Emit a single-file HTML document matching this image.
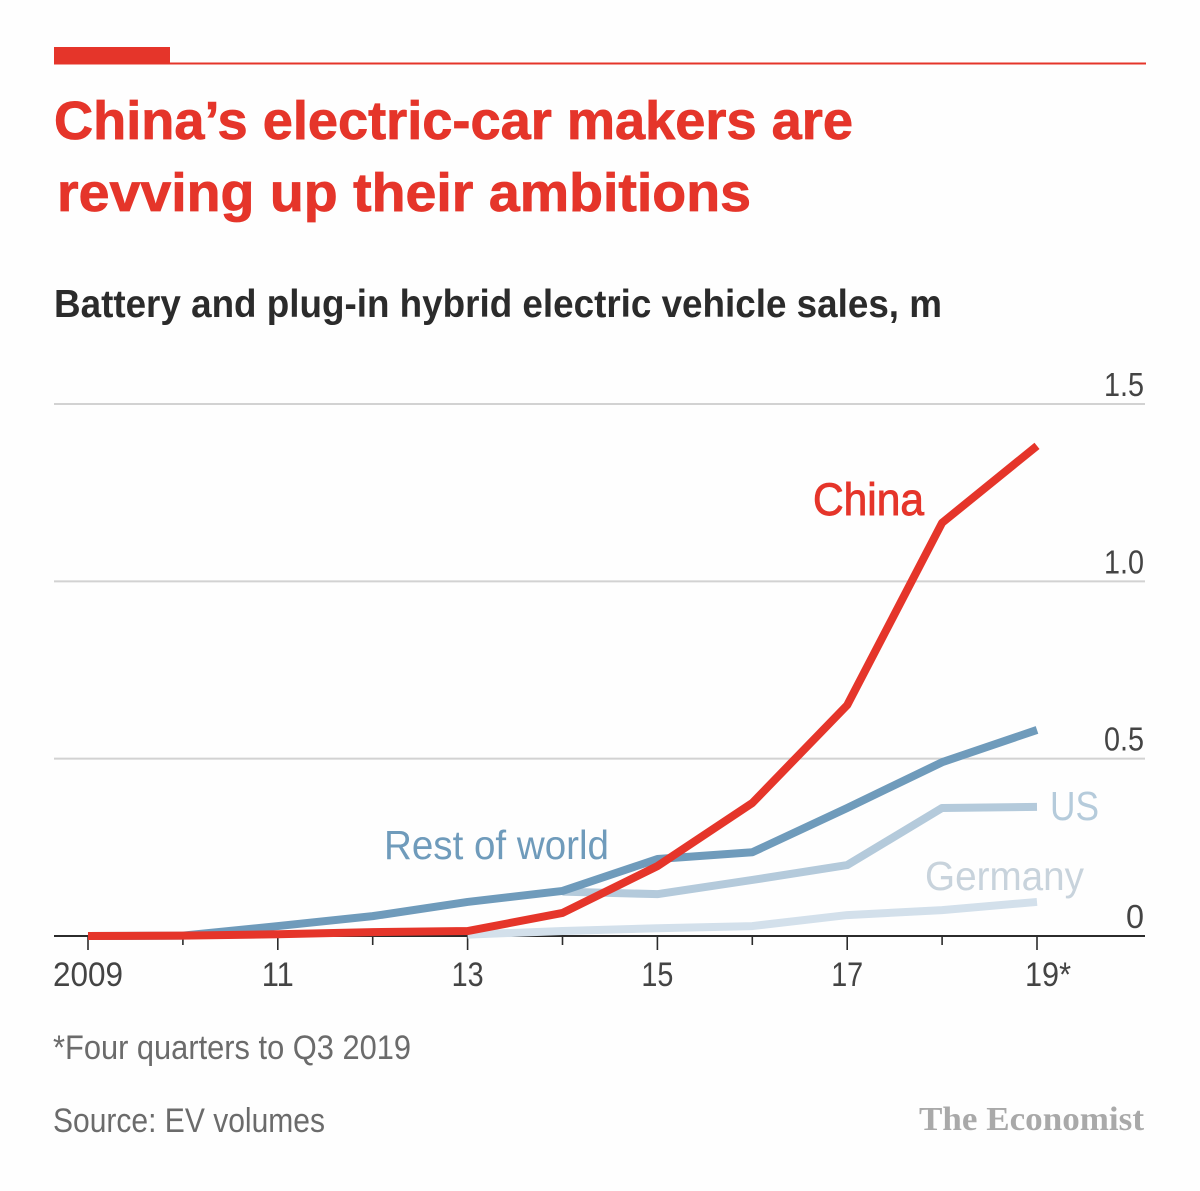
<!DOCTYPE html>
<html lang="en">
<head>
<meta charset="utf-8">
<title>China's electric-car makers are revving up their ambitions</title>
<style>
html,body{margin:0;padding:0;background:#fff;}
svg{display:block;}
text{font-family:"Liberation Sans",sans-serif;}
</style>
</head>
<body>
<svg id="chart" xmlns="http://www.w3.org/2000/svg" width="1200" height="1191" viewBox="0 0 1200 1191">
  <rect width="1200" height="1191" fill="#fefefe"/>
  <rect x="54" y="47" width="116" height="17" fill="#e5352a"/>
  <rect x="54" y="62.5" width="1092" height="2" fill="#e5352a"/>
  <text x="54" y="139" font-size="54" font-weight="700" fill="#e5352a" stroke="#e5352a" stroke-width="0.8" textLength="799" lengthAdjust="spacingAndGlyphs">China’s electric-car makers are</text>
  <text x="57" y="211" font-size="54" font-weight="700" fill="#e5352a" stroke="#e5352a" stroke-width="0.8" textLength="694" lengthAdjust="spacingAndGlyphs">revving up their ambitions</text>
  <text x="54" y="317" font-size="39" font-weight="700" fill="#2b2b2b" textLength="888" lengthAdjust="spacingAndGlyphs">Battery and plug-in hybrid electric vehicle sales, m</text>
  <g id="grid"></g>
  <g id="ticks"></g>
  <g id="series"></g>
  <text x="813" y="515" font-size="45" fill="#e5352a" stroke="#e5352a" stroke-width="0.9" textLength="111" lengthAdjust="spacingAndGlyphs">China</text>
  <text x="384" y="859" font-size="41" fill="#6f9bbb" textLength="225" lengthAdjust="spacingAndGlyphs">Rest of world</text>
  <text x="1050" y="820" font-size="41" fill="#b5cbdb" textLength="49" lengthAdjust="spacingAndGlyphs">US</text>
  <text x="925" y="890" font-size="41" fill="#c8d3dc" textLength="159" lengthAdjust="spacingAndGlyphs">Germany</text>
  <text x="53" y="1059" font-size="34" fill="#6b6b6b" textLength="358" lengthAdjust="spacingAndGlyphs">*Four quarters to Q3 2019</text>
  <text x="53" y="1132" font-size="34" fill="#6b6b6b" textLength="272" lengthAdjust="spacingAndGlyphs">Source: EV volumes</text>
  <text x="919" y="1130" font-size="34" font-weight="700" fill="#a9a9a9" style="font-family:'Liberation Serif',serif" textLength="225" lengthAdjust="spacingAndGlyphs">The Economist</text>
</svg>
<script>
const years = [2009, 2010, 2011, 2012, 2013, 2014, 2015, 2016, 2017, 2018, 2019];
const xTickLabels = ['2009', '', '11', '', '13', '', '15', '', '17', '', '19*'];
const yTicks = [0, 0.5, 1.0, 1.5];
const yTickLabels = ['0', '0.5', '1.0', '1.5'];
const germany = [null, null, null, null, 0.004, 0.014, 0.022, 0.028, 0.059, 0.073, 0.096];
const us = [null, null, null, null, null, 0.125, 0.118, 0.158, 0.2, 0.361, 0.364];
const restOfWorld = [0, 0.001, 0.028, 0.056, 0.096, 0.127, 0.217, 0.236, 0.361, 0.49, 0.581];
const china = [0, 0.001, 0.005, 0.011, 0.014, 0.065, 0.197, 0.375, 0.651, 1.165, 1.382];

const NS = 'http://www.w3.org/2000/svg';
const xScale = v => 88 + (v - 2009) * (1037 - 88) / 10;
const yScale = v => 936 - v * (936 - 404) / 1.5;

function make(tag, attrs, parent, txt) {
  const el = document.createElementNS(NS, tag);
  for (const k in attrs) el.setAttribute(k, attrs[k]);
  if (txt !== undefined) el.textContent = txt;
  parent.appendChild(el);
  return el;
}

const grid = document.getElementById('grid');
yTicks.forEach((t, i) => {
  const line = make('line', {x1: 54, x2: 1145, y1: yScale(t), y2: yScale(t),
    stroke: t === 0 ? '#2b2b2b' : '#d2d2d2', 'stroke-width': 2}, grid);
  
  
  const label = make('text', {x: 1144, y: yScale(t) - 8, 'text-anchor': 'end',
    'font-size': 33, fill: '#444444'}, grid, yTickLabels[i]);
  
  
  label.setAttribute('textLength', yTickLabels[i].length === 1 ? 18 : 40);
  label.setAttribute('lengthAdjust', 'spacingAndGlyphs');
});

const ticks = document.getElementById('ticks');
years.forEach((yr, i) => {
  const major = xTickLabels[i] !== '';
  const tick = make('line', {x1: xScale(yr), x2: xScale(yr), y1: yScale(0),
    y2: yScale(0) + (major ? 14 : 9), stroke: '#2b2b2b', 'stroke-width': 1.6}, ticks);
  
  
  if (major) {
    const s = xTickLabels[i];
    const w = s === '2009' ? 70 : s === '19*' ? 46 : 32;
    const label = make('text', {x: s === '19*' ? xScale(yr) - 12 + w / 2 : xScale(yr), y: 986, 'text-anchor': 'middle',
      'font-size': 34, fill: '#444444', textLength: w, lengthAdjust: 'spacingAndGlyphs'}, ticks, s);
    
    
  }
});

function drawSeries(values, color, name) {
  const pts = [];
  values.forEach((v, i) => { if (v !== null) pts.push(xScale(years[i]) + ',' + yScale(v)); });
  const path = make('polyline', {points: pts.join(' '), fill: 'none', stroke: color,
    'stroke-width': 8, 'stroke-linejoin': 'round'}, document.getElementById('series'));
  
  
}
drawSeries(germany, '#d3e0eb', 'line-germany');
drawSeries(us, '#b4cadb', 'line-us');
drawSeries(restOfWorld, '#6f9bbb', 'line-rest-of-world');
drawSeries(china, '#e5352a', 'line-china');
</script>
</body>
</html>
